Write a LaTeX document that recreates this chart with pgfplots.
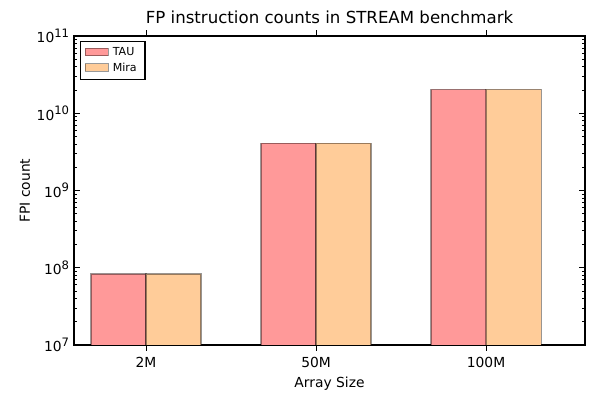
\documentclass[border=0pt]{standalone}
\usepackage{fontspec}
\setmainfont{DejaVu Sans}
\usepackage{pgfplots}
\pgfplotsset{compat=1.18}
\definecolor{taucol}{HTML}{FF9999}
\definecolor{miracol}{HTML}{FFCC99}
\newcommand{\pw}[1]{10\raisebox{0.75ex}{\fontsize{8.4}{9}\selectfont #1}}
\begin{document}
\begin{tikzpicture}[x=0.7227pt,y=0.7227pt]
\begin{axis}[
  scale only axis,
  width=369.3pt, height=223.3pt,
  ymode=log,
  ymin=1e7, ymax=1e11,
  xmin=-0.4235, xmax=2.582,
  xtick={0,1,2},
  xticklabels={2M,50M,100M},
  ytick={1e7,1e8,1e9,1e10,1e11},
  yticklabels={\pw{7},\pw{8},\pw{9},\pw{10},\pw{11}},
  minor ytick={2e7,3e7,4e7,5e7,6e7,7e7,8e7,9e7,2e8,3e8,4e8,5e8,6e8,7e8,8e8,9e8,2e9,3e9,4e9,5e9,6e9,7e9,8e9,9e9,2e10,3e10,4e10,5e10,6e10,7e10,8e10,9e10},
  tick align=inside,
  xtick pos=both, ytick pos=both,
  major tick length=4pt, minor tick length=2pt,
  every tick/.style={black, line width=0.6pt},
  tick label style={font=\fontsize{10}{12}\selectfont},
  axis line style={line width=0.9pt},
  title={FP instruction counts in STREAM benchmark},
  title style={font=\fontsize{12}{14}\selectfont, yshift=-1pt},
  xlabel={Array Size},
  ylabel={FPI count},
  label style={font=\fontsize{10}{12}\selectfont},
  ylabel style={yshift=-2pt},
  xticklabel style={yshift=-1pt},
  ybar,
  bar width=0.3235,
  legend style={at={(0.012,0.985)}, anchor=north west, font=\fontsize{8}{9}\selectfont, draw=black, line width=0.8pt, inner xsep=3pt, inner ysep=2.5pt, row sep=0pt,
    nodes={inner xsep=3pt}},
  legend cell align=left,
  legend image code/.code={\draw[#1, draw opacity=0.4, line width=0.6pt] (0pt,-2.2pt) rectangle (16.6pt,3.3pt);},
  /pgf/number format/assume math mode=true,
]
\addplot[fill=taucol, draw=black, draw opacity=0.4, line width=0.8pt, bar shift=-0.16175] coordinates {(0,8.3e7) (1,4.1e9) (2,2.03e10)};
\addplot[fill=miracol, draw=black, draw opacity=0.4, line width=0.8pt, bar shift=0.16175] coordinates {(0,8.3e7) (1,4.1e9) (2,2.03e10)};
\legend{TAU,Mira}
\end{axis}
\pgfresetboundingbox
\useasboundingbox (-74,-55) rectangle (526,345);
\end{tikzpicture}
\end{document}
